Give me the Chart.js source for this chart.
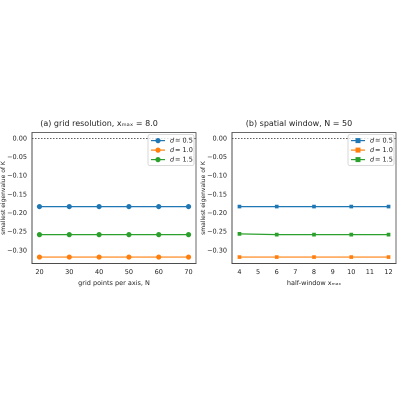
<!DOCTYPE html>
<html><head><meta charset="utf-8">
<script src="https://cdn.jsdelivr.net/npm/chart.js@4"></script>
<style>
body{margin:0;background:#fff;width:400px;height:400px;position:relative;overflow:hidden}
.w{position:absolute;top:115px;width:200px;height:172px}
</style></head><body>
<div class="w" style="left:0"><canvas id="c1"></canvas></div>
<div class="w" style="left:200px"><canvas id="c2"></canvas></div>
<script>
const gridN = [20,30,40,50,60,70];
const gridD05 = [-0.182,-0.182,-0.182,-0.182,-0.182,-0.182];
const gridD10 = [-0.317,-0.317,-0.317,-0.317,-0.317,-0.317];
const gridD15 = [-0.257,-0.257,-0.257,-0.257,-0.257,-0.257];
const winX = [4,6,8,10,12];
const winD05 = [-0.182,-0.182,-0.182,-0.182,-0.182];
const winD10 = [-0.317,-0.317,-0.317,-0.317,-0.317];
const winD15 = [-0.255,-0.257,-0.257,-0.257,-0.257];
const gridTicks = [20,30,40,50,60,70];
const winTicks = [4,5,6,7,8,9,10,11,12];
const yTicks = [0,-0.05,-0.10,-0.15,-0.20,-0.25,-0.30];
const labels = ['d = 0.5','d = 1.0','d = 1.5'];
const colors = ['#1f77b4','#ff7f0e','#2ca02c'];
const F = 'DejaVu Sans';

function legendPlugin(style){return {id:'lg',afterDraw(ch){
  const c=ch.ctx,a=ch.chartArea;
  c.save();c.strokeStyle='#444';c.lineWidth=0.8;c.strokeRect(a.left,a.top,a.right-a.left,a.bottom-a.top);
  const w=46,h=31,x=a.right-w-2,y=a.top+2;
  c.fillStyle='rgba(255,255,255,0.8)';c.strokeStyle='#ccc';
  c.beginPath();c.roundRect(x,y,w,h,2);c.fill();c.stroke();
  c.textBaseline='middle';
  for(let i=0;i<3;i++){const yy=y+6+i*9.5;
    c.strokeStyle=colors[i];c.lineWidth=1.2;c.beginPath();c.moveTo(x+3,yy);c.lineTo(x+17,yy);c.stroke();
    c.fillStyle=colors[i];
    if(style==='rect'){c.fillRect(x+7.5,yy-2.5,5,5);}else{c.beginPath();c.arc(x+10,yy,2.6,0,7);c.fill();}
    c.fillStyle='#222';c.font='italic 6.5px '+F;c.fillText('d',x+22,yy);c.font='6.5px '+F;c.fillText('= '+labels[i].slice(4),x+27,yy);}
  c.restore();}}}

function make(id,xs,d,style,xmin,xmax,xt,title,xtitle){
  const ds=d.map((v,i)=>({data:xs.map((x,j)=>({x,y:v[j]})),borderColor:colors[i],backgroundColor:colors[i],
    borderWidth:1.2,pointStyle:style,pointRadius:2.6,pointBorderWidth:0}));
  ds.unshift({data:[{x:xmin,y:0},{x:xmax,y:0}],borderColor:'#000',borderWidth:0.7,borderDash:[1.5,1.5],pointRadius:0});
  new Chart(document.getElementById(id),{type:'line',data:{datasets:ds},
   plugins:[legendPlugin(style)],
   options:{responsive:false,animation:false,devicePixelRatio:2,
    layout:{padding:{left:0,right:2,top:0,bottom:0}},
    plugins:{legend:{display:false},tooltip:{enabled:false},
     title:{display:true,text:title,color:'#222',font:{family:F,size:8,weight:'normal'},padding:{top:4,bottom:4}}},
    scales:{
     x:{type:'linear',min:xmin,max:xmax,afterBuildTicks:s=>{s.ticks=xt.map(v=>({value:v}))},
        ticks:{color:'#222',font:{family:F,size:6.5},padding:2,callback:v=>String(v)},
        grid:{display:false,drawTicks:true,tickLength:3},border:{color:'#444',width:0.8},
        title:{display:true,text:xtitle,color:'#222',font:{family:F,size:6.5},padding:{top:1,bottom:0}}},
     y:{min:-0.334,max:0.016,afterBuildTicks:s=>{s.ticks=yTicks.map(v=>({value:v}))},
        ticks:{color:'#222',font:{family:F,size:6.5},padding:2,
        callback:v=>{const r=Math.round(v*100)/100;return r===0?'0.00':(r<0?'\u2212':'')+Math.abs(r).toFixed(2);}},
        afterFit:s=>{s.width=32},
        grid:{display:false,tickLength:3},border:{color:'#444',width:0.8},
        title:{display:true,text:'smallest eigenvalue of K',color:'#222',font:{family:F,size:6},padding:0}}
    }}});
}
document.getElementById('c1').width=200;document.getElementById('c1').height=172;
document.getElementById('c2').width=200;document.getElementById('c2').height=172;
make('c1',gridN,[gridD05,gridD10,gridD15],'circle',17.5,72.5,gridTicks,'(a) grid resolution, x\u2098\u2090\u2093 = 8.0','grid points per axis, N');
make('c2',winX,[winD05,winD10,winD15],'rect',3.6,12.4,winTicks,'(b) spatial window, N = 50','half-window x\u2098\u2090\u2093');
</script></body></html>
